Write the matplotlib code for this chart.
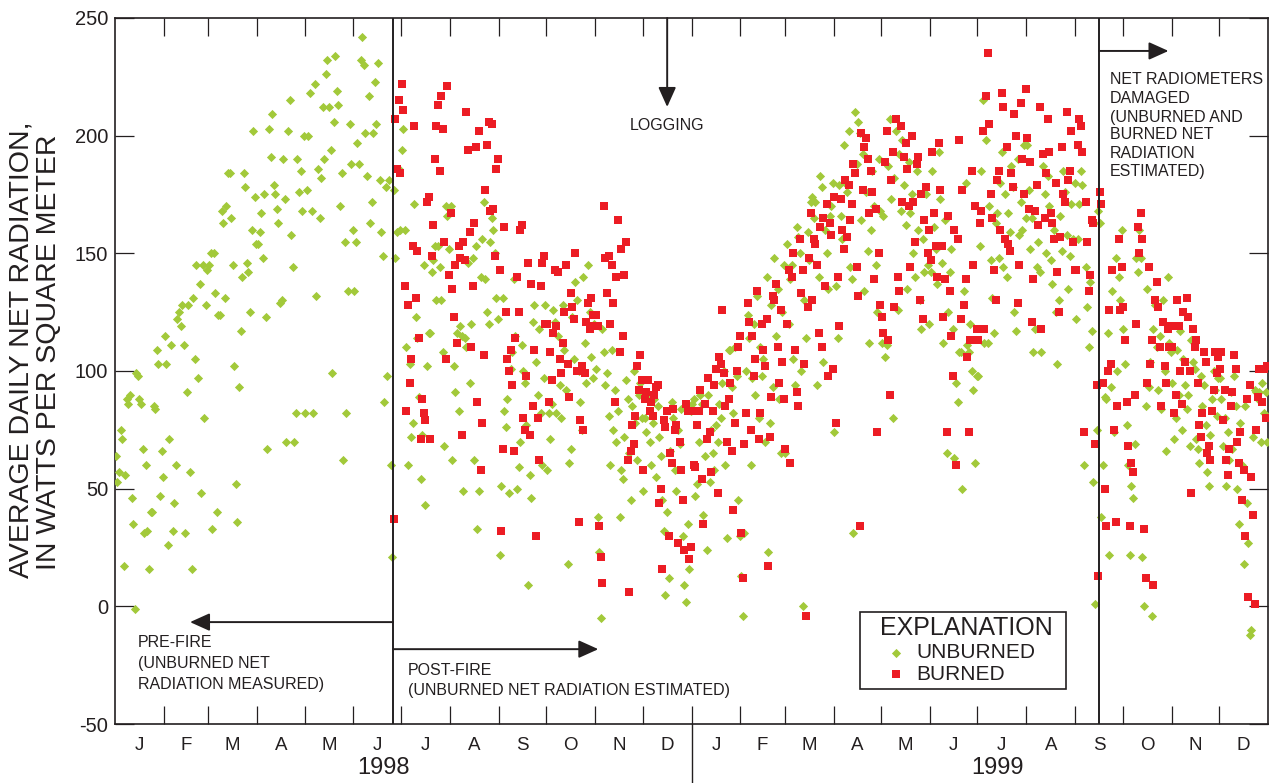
import matplotlib
matplotlib.use('Agg')
import matplotlib.pyplot as plt
from matplotlib.patches import Rectangle
import numpy as np

plt.rcParams['font.family'] = ['Liberation Sans', 'DejaVu Sans']
plt.rcParams['axes.unicode_minus'] = False

MONTH_LETTERS = list('JFMAMJJASOND')
DAYS_IN_MONTH = [31, 28, 31, 30, 31, 30, 31, 31, 30, 31, 30, 31]
YEARS = ['1998', '1999']

# Daily average net radiation (W/m2), one list per month
unburned_1998 = [
    [64, 53, 57, 75, 71, 17, 56, 88, 86, 90, 46, 35, -1, 99, 98, 88, 86, 67, 31, 60, 32, 16, 40, 40, 85, 84, 109, 103, 47, 66, 55],
    [115, 103, 26, 71, 111, 32, 44, 60, 122, 125, 119, 128, 111, 31, 91, 128, 57, 16, 131, 105, 145, 97, 137, 48, 145, 80, 128, 143],
    [145, 150, 33, 150, 133, 40, 124, 124, 168, 163, 131, 170, 184, 184, 165, 145, 102, 52, 36, 93, 117, 140, 184, 178, 146, 142, 125, 160, 202, 174, 154],
    [154, 159, 167, 148, 175, 123, 67, 203, 191, 209, 179, 175, 169, 163, 129, 130, 190, 173, 70, 202, 215, 158, 144, 70, 82, 190, 176, 185, 168, 200],
    [82, 177, 200, 218, 168, 82, 222, 132, 186, 165, 182, 212, 190, 226, 232, 212, 194, 99, 206, 234, 219, 213, 170, 184, 62, 155, 82, 134, 205, 188, 160],
    [134, 155, 197, 188, 232, 242, 230, 201, 183, 217, 163, 172, 201, 223, 205, 231, 181, 159, 149, 87, 178, 98, 181, 60, 21, 177, 148, 159, 186, 160],
    [194, 203, 160, 110, 60, 103, 72, 78, 171, 123, 114, 89, 54, 73, 145, 43, 102, 116, 116, 142, 147, 153, 130, 153, 144, 130, 108, 68, 170, 166, 152],
    [170, 62, 102, 91, 116, 83, 119, 115, 49, 114, 110, 146, 95, 120, 148, 62, 153, 33, 49, 140, 156, 172, 139, 125, 120, 155, 165, 160, 150, 131, 122],
    [22, 51, 131, 83, 76, 88, 48, 101, 108, 139, 115, 50, 59, 70, 111, 100, 95, 77, 9, 56, 46, 121, 128, 104, 90, 118, 82, 60, 97, 128],
    [58, 82, 71, 86, 126, 121, 82, 115, 94, 80, 128, 109, 92, 18, 61, 67, 123, 105, 138, 130, 100, 87, 75, 140, 112, 95, 145, 125, 106, 97, 120],
    [101, 38, 23, -5, 118, 108, 94, 99, 81, 60, 109, 75, 92, 70, 83, 38, 58, 54, 72, 96, 88, 65, 45, 85, 100, 78, 62, 90, 95, 80],
    [49, 80, 74, 90, 70, 60, 78, 88, 55, 85, 72, 64, 45, 32, 5, 40, 12, 66, 87, 80, 58, 49, 75, 69, 84, 30, 9, 2, 35, 16, 83],
]
unburned_1999 = [
    [86, 88, 47, 52, 70, 90, 86, 39, 64, 24, 90, 53, 75, 65, 58, 77, 70, 86, 80, 95, 100, 60, 29, 109, 109, 93, 82, 110, 98, 45, 30],
    [13, -4, 31, 100, 124, 114, 60, 97, 120, 90, 132, 80, 110, 98, 105, 70, 140, 23, 78, 128, 93, 148, 115, 135, 88, 65, 125, 145],
    [65, 154, 120, 139, 145, 105, 94, 161, 157, 150, 100, 0, 130, 114, 159, 147, 172, 174, 165, 172, 94, 140, 183, 178, 104, 160, 150, 135, 166, 170, 180],
    [74, 136, 114, 179, 166, 156, 196, 180, 176, 202, 144, 139, 31, 210, 188, 206, 201, 164, 192, 134, 176, 151, 112, 160, 185, 170, 145, 125, 190, 168],
    [112, 166, 106, 111, 187, 207, 173, 80, 182, 202, 126, 192, 168, 198, 179, 162, 135, 189, 167, 175, 150, 140, 185, 160, 130, 118, 156, 142, 175, 145, 120],
    [142, 185, 161, 152, 137, 193, 173, 146, 112, 164, 65, 125, 142, 152, 118, 63, 95, 87, 108, 108, 50, 134, 180, 111, 108, 120, 100, 92, 61, 98],
    [98, 153, 185, 215, 112, 198, 112, 170, 147, 131, 116, 163, 167, 148, 180, 193, 144, 175, 140, 167, 159, 187, 178, 125, 117, 190, 158, 172, 160, 196, 165],
    [196, 177, 152, 165, 108, 118, 144, 155, 142, 108, 187, 175, 150, 183, 170, 147, 137, 160, 125, 103, 130, 166, 151, 185, 176, 158, 135, 149, 171, 156, 180],
    [122, 156, 171, 185, 179, 60, 144, 127, 110, 138, 117, 53, 1, 75, 168, 163, 38, 60, 89, 88, 116, 22, 93, 134, 74, 148, 100, 140, 130, 160],
    [118, 103, 77, 60, 22, 51, 46, 69, 148, 142, 160, 148, 21, 0, 85, 135, 93, 104, -4, 118, 128, 110, 92, 115, 84, 130, 100, 66, 140, 112, 108],
    [95, 71, 80, 109, 90, 117, 75, 105, 94, 84, 90, 68, 113, 104, 101, 71, 67, 61, 98, 85, 94, 77, 57, 51, 73, 88, 100, 92, 81, 97],
    [97, 88, 68, 80, 51, 74, 62, 91, 67, 98, 85, 50, 35, 78, 60, 18, 85, 44, 27, -12, -10, 72, 92, 91, 88, 91, 70, 95, 82, 91, 70],
]
_ = None
burned_1998 = [
    [], [], [], [], [],
    [_, _, _, _, _, _, _, _, _, _, _, _, _, _, _, _, _, _, _, _, _, _, _, _, _, 37, 207, 186, 215, 184],
    [222, 211, 136, 83, 128, 95, 105, 153, 204, 131, 151, 114, 71, 88, 82, 79, 172, 174, 71, 149, 162, 190, 204, 213, 185, 217, 203, 155, 105, 221, 141],
    [167, 135, 123, 145, 112, 153, 148, 73, 155, 147, 210, 194, 159, 110, 136, 163, 195, 87, 202, 58, 78, 107, 177, 196, 206, 168, 205, 169, 149, 186, 190],
    [143, 32, 67, 161, 125, 105, 100, 109, 94, 66, 114, 140, 125, 160, 162, 80, 75, 98, 146, 73, 137, 85, 109, 30, 80, 62, 136, 146, 149, 120],
    [120, 87, 108, 96, 116, 143, 119, 142, 105, 99, 112, 125, 145, 103, 89, 133, 127, 122, 150, 100, 36, 79, 102, 75, 99, 121, 129, 118, 131, 124, 119],
    [124, 119, 34, 21, 10, 170, 148, 133, 149, 120, 145, 129, 87, 140, 164, 108, 152, 115, 141, 155, 62, 6, 66, 77, 69, 81, 102, 92, 107, 96],
    [58, 88, 91, 96, 83, 87, 81, 90, 93, 94, 44, 50, 16, 79, 76, 83, 30, 65, 61, 84, 75, 77, 27, 70, 58, 45, 24, 86, 83, 20, 25],
]
burned_1999 = [
    [83, 60, 59, 77, 83, 92, 54, 35, 86, 71, 97, 74, 57, 83, 94, 101, 48, 106, 103, 126, 99, 85, 70, 88, 95, 66, 41, 78, 100, 110, 115],
    [31, 12, 69, 82, 129, 121, 75, 115, 98, 105, 134, 71, 82, 120, 109, 102, 122, 17, 72, 89, 132, 130, 137, 110, 95, 126, 104, 88],
    [67, 120, 143, 61, 140, 150, 109, 91, 85, 156, 133, 143, 103, -4, 127, 148, 167, 130, 156, 154, 145, 116, 161, 110, 165, 136, 171, 98, 163, 158, 101],
    [174, 78, 140, 119, 173, 160, 152, 181, 157, 179, 164, 171, 188, 184, 144, 132, 34, 201, 177, 195, 199, 190, 167, 185, 176, 139, 169, 74, 150, 128],
    [123, 116, 189, 202, 113, 90, 181, 193, 127, 207, 140, 134, 204, 172, 191, 197, 186, 170, 144, 200, 172, 155, 188, 191, 130, 175, 122, 164, 178, 150, 160],
    [147, 193, 167, 153, 140, 197, 177, 153, 123, 139, 74, 166, 134, 115, 98, 160, 60, 156, 198, 122, 177, 128, 139, 106, 74, 113, 185, 145, 170, 118],
    [113, 163, 168, 202, 118, 217, 235, 205, 175, 165, 143, 130, 181, 185, 160, 218, 212, 156, 195, 154, 151, 184, 178, 209, 200, 129, 145, 214, 190, 175, 220],
    [199, 169, 189, 121, 139, 168, 179, 162, 212, 118, 192, 165, 184, 207, 193, 167, 163, 156, 180, 142, 125, 157, 195, 175, 172, 210, 181, 185, 202, 155, 143],
    [143, 196, 207, 204, 193, 74, 172, 155, 134, 141, 164, 163, 69, 94, 13, 176, 171, 95, 50, 34, 100, 126, 103, 143, 75, 36, 85, 156, 126, 144],
    [127, 113, 87, 68, 34, 61, 57, 90, 120, 161, 150, 167, 156, 33, 12, 95, 144, 103, 113, 9, 130, 138, 127, 110, 85, 121, 102, 95, 118, 110, 119],
    [110, 82, 90, 130, 119, 100, 86, 125, 104, 131, 123, 100, 48, 118, 110, 113, 95, 77, 72, 82, 108, 104, 65, 68, 62, 83, 92, 108, 99, 106],
    [101, 108, 79, 92, 62, 56, 67, 85, 91, 107, 101, 70, 61, 74, 45, 58, 30, 88, 4, 94, 55, 39, 1, 75, 89, 101, 101, 87, 101, 80, 102],
]

FIRE_DAY = 176        # day index (from 1 Jan 1998) of the fire
DAMAGE_DAY = 623      # net radiometers damaged
LOGGING_DAY = 349.6   # logging

DARK = '#231F20'
GREEN = '#A2C93A'
RED = '#EC1C24'

all_days = DAYS_IN_MONTH * 2
month_starts = np.concatenate([[0], np.cumsum(all_days)])
TOTAL_DAYS = month_starts[-1]


def series_xy(year_lists, year_index):
    xs, ys = [], []
    for m, vals in enumerate(year_lists):
        if not vals:
            continue
        n = DAYS_IN_MONTH[m]
        start = month_starts[year_index * 12 + m]
        k = len(vals)
        for i, v in enumerate(vals):
            if v is None:
                continue
            xs.append(start + (i + 0.5) * n / k)
            ys.append(v)
    return xs, ys


W, H = 1272, 783
fig = plt.figure(figsize=(W / 100, H / 100), dpi=100)
L, R, T, B = 115, 1268, 18, 724
ax = fig.add_axes([L / W, 1 - B / H, (R - L) / W, (B - T) / H])
ax.set_xlim(0, TOTAL_DAYS)
ax.set_ylim(-50, 250)

for sp in ax.spines.values():
    sp.set_color(DARK)
    sp.set_linewidth(1.2)

xu, yu = [], []
for yi, lst in enumerate([unburned_1998, unburned_1999]):
    a, b = series_xy(lst, yi)
    xu += a
    yu += b
xb, yb = [], []
for yi, lst in enumerate([burned_1998, burned_1999]):
    a, b = series_xy(lst, yi)
    xb += a
    yb += b

ax.scatter(xu, yu, marker='D', s=22, c=GREEN, linewidths=0, zorder=3)
ax.scatter(xb, yb, marker='s', s=26, c=RED, linewidths=0, zorder=4)

# ticks
ax.set_xticks(month_starts[1:-1])
ax.set_xticklabels([])
mids = (month_starts[:-1] + month_starts[1:]) / 2
ax.set_xticks(mids, minor=True)
ax.set_xticklabels(MONTH_LETTERS * 2, minor=True)
ax.tick_params(axis='x', which='major', direction='in', length=13, width=0.9,
               color=DARK, top=True, bottom=True)
ax.tick_params(axis='x', which='minor', length=0, pad=9, labelsize=13.5,
               labelcolor=DARK)
ax.set_yticks(np.arange(-50, 251, 50))
ax.tick_params(axis='y', direction='in', length=14, width=0.9, color=DARK,
               left=True, right=True, labelsize=14.5, labelcolor=DARK, pad=5)

# year labels and divider
xt = ax.get_xaxis_transform()
ax.plot([365, 365], [0, -0.085], transform=xt, clip_on=False, color=DARK, lw=1.0)
ax.text(170, -0.0623, YEARS[0], transform=xt, ha='center', va='center', fontsize=17, color=DARK)
ax.text(559, -0.0623, YEARS[1], transform=xt, ha='center', va='center', fontsize=17, color=DARK)

# vertical event lines
ax.axvline(FIRE_DAY, color=DARK, lw=1.4, zorder=5)
ax.axvline(DAMAGE_DAY, color=DARK, lw=1.4, zorder=5)

arrow_kw = dict(arrowstyle='-|>,head_length=0.6,head_width=0.27', mutation_scale=20,
                lw=1.4, color=DARK, shrinkA=0, shrinkB=0)
ax.annotate('', xy=(47.5, -6.7), xytext=(FIRE_DAY, -6.7), arrowprops=arrow_kw)
ax.annotate('', xy=(306, -18.2), xytext=(FIRE_DAY, -18.2), arrowprops=arrow_kw)
ax.annotate('', xy=(LOGGING_DAY, 212.2), xytext=(LOGGING_DAY, 250), arrowprops=arrow_kw)
ax.annotate('', xy=(667, 236), xytext=(DAMAGE_DAY, 236), arrowprops=arrow_kw)

tk = dict(fontsize=11.5, color=DARK, va='center', ha='left')
ax.text(LOGGING_DAY, 204.5, 'LOGGING', fontsize=11.5, color=DARK, ha='center', va='center')
for txt, yv in zip(['PRE-FIRE', '(UNBURNED NET', 'RADIATION MEASURED)'], [-15.4, -24.4, -33.3]):
    ax.text(14.6, yv, txt, **tk)
for txt, yv in zip(['POST-FIRE', '(UNBURNED NET RADIATION ESTIMATED)'], [-27.1, -35.6]):
    ax.text(185.6, yv, txt, **tk)
for txt, yv in zip(['NET RADIOMETERS', 'DAMAGED', '(UNBURNED AND', 'BURNED NET',
                    'RADIATION', 'ESTIMATED)'],
                   [224.0, 216.0, 207.9, 200.3, 192.6, 184.6]):
    ax.text(630.1, yv, txt, **tk)

# explanation box
ax.add_patch(Rectangle((0.646, 0.0496), 0.179, 0.109, transform=ax.transAxes,
                       fc='white', ec=DARK, lw=1.2, zorder=6))
ax.text(0.738, 0.136, 'EXPLANATION', transform=ax.transAxes, ha='center', va='center',
        fontsize=18, color=DARK, zorder=7)
ax.scatter([0.677], [0.1006], marker='D', s=22, c=GREEN, linewidths=0,
           transform=ax.transAxes, zorder=7, clip_on=False)
ax.scatter([0.677], [0.0708], marker='s', s=26, c=RED, linewidths=0,
           transform=ax.transAxes, zorder=7, clip_on=False)
ax.text(0.6947, 0.1006, 'UNBURNED', transform=ax.transAxes, ha='left', va='center',
        fontsize=15, color=DARK, zorder=7)
ax.text(0.6947, 0.0708, 'BURNED', transform=ax.transAxes, ha='left', va='center',
        fontsize=15, color=DARK, zorder=7)

# y-axis title (two lines)
fig.text(22 / W, 1 - 350 / H, 'AVERAGE DAILY NET RADIATION,', rotation=90,
         ha='center', va='center', fontsize=20.5, color=DARK)
fig.text(49 / W, 1 - 352 / H, 'IN WATTS PER SQUARE METER', rotation=90,
         ha='center', va='center', fontsize=20.5, color=DARK)

fig.savefig('out.png', dpi=100)
